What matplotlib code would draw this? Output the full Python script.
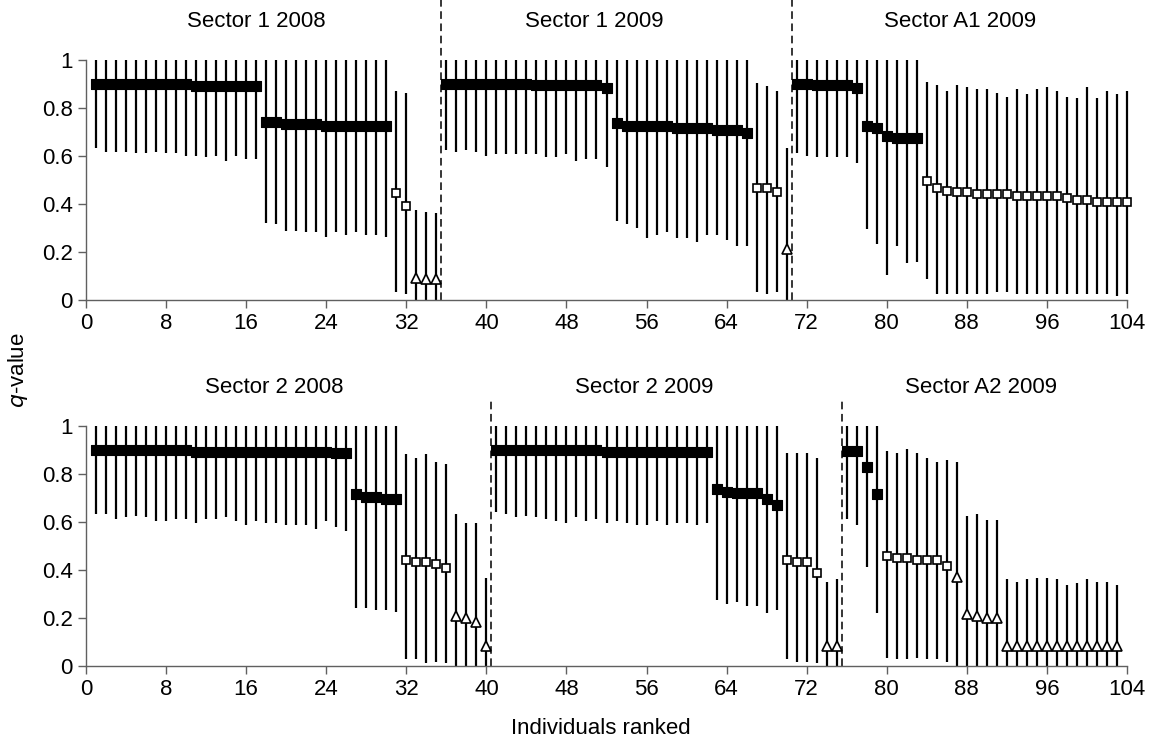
import matplotlib
matplotlib.use("Agg")
import matplotlib.pyplot as plt
import numpy as np

plt.rcParams['font.family'] = ['Liberation Sans', 'DejaVu Sans']

# ---------------- data ----------------
# Top panel: Sector 1 2008 (1-35), Sector 1 2009 (36-70), Sector A1 2009 (71-104)
top_q = ([0.90]*10 + [0.89]*7 + [0.743]*2 + [0.733]*4 + [0.725]*7
         + [0.447, 0.392, 0.093, 0.086, 0.086]
         + [0.90]*9 + [0.895]*7 + [0.885] + [0.739] + [0.725]*5 + [0.717]*4 + [0.708]*3 + [0.694]
         + [0.465, 0.465, 0.449, 0.211]
         + [0.90, 0.90, 0.895, 0.895, 0.895, 0.895, 0.885, 0.725, 0.715, 0.683, 0.676, 0.676, 0.676]
         + [0.497, 0.465, 0.456, 0.449, 0.449, 0.440, 0.440, 0.440, 0.440, 0.433, 0.433, 0.433, 0.433, 0.433,
            0.424, 0.417, 0.417, 0.408, 0.408, 0.408, 0.408])
top_lo = ([0.632, 0.618, 0.618, 0.618, 0.611, 0.611, 0.617, 0.611, 0.611, 0.601, 0.601, 0.594, 0.601, 0.578,
           0.601, 0.586, 0.586]
          + [0.322, 0.315, 0.289, 0.289, 0.282, 0.282, 0.264, 0.282, 0.272, 0.282, 0.272, 0.272, 0.264]
          + [0.032, 0.025, 0.0, 0.0, 0.0]
          + [0.625, 0.615, 0.625, 0.615, 0.601, 0.608, 0.608, 0.608, 0.608, 0.608, 0.594, 0.594, 0.608, 0.578,
             0.588, 0.588, 0.554]
          + [0.329, 0.315, 0.299, 0.258, 0.272, 0.282, 0.258, 0.258, 0.243, 0.272, 0.272, 0.249, 0.225, 0.225]
          + [0.032, 0.025, 0.032, 0.0]
          + [0.611, 0.601, 0.594, 0.594, 0.594, 0.594, 0.569]
          + [0.297, 0.233, 0.104, 0.225, 0.153, 0.160]
          + [0.088, 0.025, 0.025, 0.025, 0.025, 0.025, 0.025, 0.032, 0.032, 0.025, 0.025, 0.025, 0.025, 0.025,
             0.025, 0.025, 0.025, 0.025, 0.025, 0.017, 0.025])
top_hi = ([1.0]*30 + [0.871, 0.864, 0.375, 0.368, 0.361]
          + [1.0]*31 + [0.903, 0.893, 0.871, 0.632]
          + [1.0]*13
          + [0.910, 0.896, 0.871, 0.896, 0.886, 0.879, 0.879, 0.864, 0.847, 0.879, 0.857, 0.879, 0.886, 0.871,
             0.847, 0.840, 0.886, 0.840, 0.871, 0.857, 0.871])
top_cls = 'F'*30 + 'O'*2 + 'T'*3 + 'F'*31 + 'O'*3 + 'T' + 'F'*13 + 'O'*21

# Bottom panel: Sector 2 2008 (1-40), Sector 2 2009 (41-75), Sector A2 2009 (76-103)
bot_q = ([0.899]*10 + [0.892]*14 + [0.888, 0.885] + [0.715, 0.704, 0.704, 0.693, 0.693]
         + [0.440, 0.431, 0.431, 0.424, 0.408] + [0.207, 0.197, 0.181, 0.082]
         + [0.899]*11 + [0.892]*11 + [0.735, 0.725, 0.718, 0.718, 0.718, 0.693, 0.669]
         + [0.440, 0.431, 0.431, 0.385, 0.082, 0.082]
         + [0.894, 0.894, 0.829, 0.715] + [0.457, 0.447, 0.447, 0.440, 0.440, 0.440, 0.417]
         + [0.371, 0.214, 0.207, 0.197, 0.197] + [0.082]*12)
bot_lo = ([0.632, 0.632, 0.611, 0.618, 0.625, 0.618, 0.601, 0.601, 0.611, 0.611, 0.593, 0.611, 0.611, 0.618,
           0.601, 0.585, 0.601, 0.593, 0.593, 0.585, 0.585, 0.585, 0.569, 0.601, 0.578, 0.561]
          + [0.240, 0.240, 0.233, 0.233, 0.225]
          + [0.028, 0.028, 0.010, 0.017, 0.010] + [0.0]*4
          + [0.642, 0.632, 0.618, 0.625, 0.618, 0.611, 0.601, 0.593, 0.618, 0.601, 0.611, 0.593, 0.601, 0.593,
             0.585, 0.585, 0.601, 0.585, 0.593, 0.593, 0.585, 0.593]
          + [0.272, 0.257, 0.264, 0.249, 0.249, 0.218, 0.233]
          + [0.028, 0.017, 0.017, 0.010, 0.0, 0.0]
          + [0.611, 0.585, 0.410, 0.218] + [0.033, 0.028, 0.028, 0.033, 0.028, 0.028, 0.017] + [0.0]*17)
bot_hi = ([1.0]*31 + [0.881, 0.864, 0.881, 0.849, 0.840] + [0.632, 0.593, 0.593, 0.367]
          + [1.0]*29 + [0.888, 0.888, 0.888, 0.864, 0.350, 0.360]
          + [1.0]*4 + [0.894, 0.888, 0.903, 0.888, 0.864, 0.849, 0.856]
          + [0.849, 0.624, 0.632, 0.607, 0.607]
          + [0.360, 0.350, 0.360, 0.367, 0.367, 0.360, 0.336, 0.343, 0.360, 0.350, 0.350, 0.336])
bot_cls = 'F'*31 + 'O'*5 + 'T'*4 + 'F'*29 + 'O'*4 + 'T'*2 + 'F'*4 + 'O'*7 + 'T'*17

top_titles = ["Sector 1 2008", "Sector 1 2009", "Sector A1 2009"]
bot_titles = ["Sector 2 2008", "Sector 2 2009", "Sector A2 2009"]
top_title_x = [17.0, 50.8, 87.3]
bot_title_x = [18.8, 55.8, 89.4]
top_dividers = [35.5, 70.5]
bot_dividers = [40.5, 75.5]
x_ticks = list(range(0, 105, 8))
y_ticks = [0, 0.2, 0.4, 0.6, 0.8, 1.0]
y_ticklabels = ["0", "0.2", "0.4", "0.6", "0.8", "1"]

# ---------------- figure ----------------
W, H = 1150, 741
fig = plt.figure(figsize=(W/100, H/100), dpi=100)

def px_axes(left, right, top, bottom):
    return fig.add_axes([left/W, 1 - bottom/H, (right-left)/W, (bottom-top)/H])

ax_top = px_axes(86, 1127, 60, 300)
ax_bot = px_axes(86, 1127, 425.7, 665.7)

# slightly wide rectangle for filled markers
rect = [(-1.15, -1.0), (1.15, -1.0), (1.15, 1.0), (-1.15, 1.0), (-1.15, -1.0)]
marker_style = {
    'F': dict(marker=rect, ms=7.6, mfc='black', mec='black', mew=0.8),
    'O': dict(marker='s', ms=6.2, mfc='white', mec='black', mew=1.2),
    'T': dict(marker='^', ms=6.8, mfc='white', mec='black', mew=1.2),
}

FS = 16

def draw(ax, q, lo, hi, cls, titles, title_x, dividers, div_top):
    n = len(q)
    x = np.arange(1, n + 1)
    q = np.array(q); lo = np.array(lo); hi = np.array(hi)
    cls = np.array(list(cls))
    ax.vlines(x, lo, hi, color='black', lw=1.6, clip_on=False, zorder=2)
    for c, st in marker_style.items():
        m = cls == c
        ax.plot(x[m], q[m], ls='none', clip_on=False, zorder=3, **st)
    for d in dividers:
        ax.plot([d, d], [0, div_top], color='black', lw=1.1, ls=(0, (5, 3)),
                clip_on=False, zorder=1)
    for t, tx in zip(titles, title_x):
        ax.text(tx, 1.16, t, ha='center', va='center', fontsize=FS)
    ax.set_xlim(0, 104)
    ax.set_ylim(0, 1)
    ax.set_xticks(x_ticks)
    ax.set_yticks(y_ticks)
    ax.set_yticklabels(y_ticklabels)
    for s in ['top', 'right']:
        ax.spines[s].set_visible(False)
    for s in ['left', 'bottom']:
        ax.spines[s].set_color('#606060')
        ax.spines[s].set_linewidth(1.0)
    ax.tick_params(axis='both', direction='out', length=5.5, width=1.0, color='#606060',
                   labelsize=FS, labelcolor='black')
    ax.tick_params(axis='x', pad=4)
    ax.tick_params(axis='y', pad=4)

draw(ax_top, top_q, top_lo, top_hi, top_cls, top_titles, top_title_x, top_dividers, 1.25)
draw(ax_bot, bot_q, bot_lo, bot_hi, bot_cls, bot_titles, bot_title_x, bot_dividers, 1.11)

fig.text(18/W, 1 - 370/H, r"$\it{q}$-value", rotation=90, ha='center', va='center', fontsize=FS)
fig.text(601/W, 1 - 728/H, "Individuals ranked", ha='center', va='center', fontsize=FS)

fig.savefig("out.png", dpi=100)
